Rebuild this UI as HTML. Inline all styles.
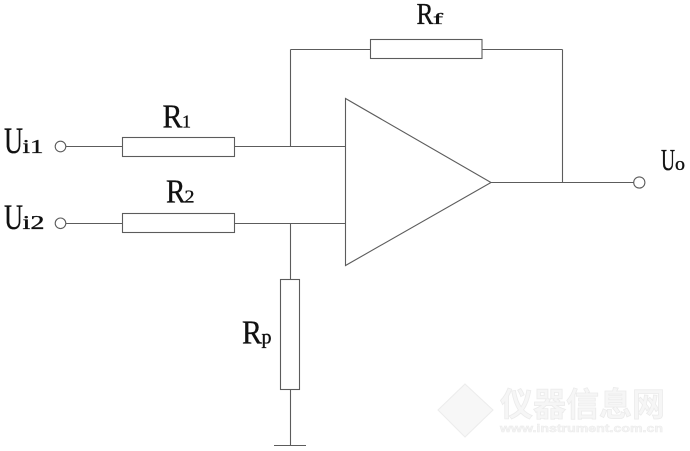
<!DOCTYPE html>
<html>
<head>
<meta charset="utf-8">
<style>
  html, body { margin: 0; padding: 0; background: #fff; }
  body { width: 690px; height: 451px; overflow: hidden; }
  svg { display: block; }
  .w { stroke: #5c5c5c; stroke-width: 1.1; fill: none; }
</style>
</head>
<body>
<svg width="690" height="451" viewBox="0 0 690 451" xmlns="http://www.w3.org/2000/svg">
  <!-- watermark -->
  <g>
    <path d="M465 384 L493 410 L465 437 L438 410 Z" fill="#f7f7f7" stroke="#ececec" stroke-width="1"/>
    <text x="500" y="416" font-family="WenQuanYi Zen Hei, Noto Sans CJK SC, sans-serif" font-size="33" font-weight="bold" fill="#f6f6f6" stroke="#ebebeb" stroke-width="0.8" textLength="165" lengthAdjust="spacingAndGlyphs">仪器信息网</text>
    <text x="500" y="432" font-family="Liberation Sans, sans-serif" font-size="11" font-weight="bold" fill="#f4f4f4" stroke="#ebebeb" stroke-width="0.5" textLength="163" lengthAdjust="spacingAndGlyphs">www.instrument.com.cn</text>
  </g>

  <!-- Input 1 -->
  <circle cx="60.5" cy="146.5" r="5.3" class="w"/>
  <line x1="66" y1="146.5" x2="122" y2="146.5" class="w"/>
  <rect x="122.5" y="137.5" width="112" height="19" class="w"/>
  <line x1="234.5" y1="146.5" x2="345.5" y2="146.5" class="w"/>
  <line x1="290.5" y1="49.5" x2="290.5" y2="146.5" class="w"/>

  <!-- Input 2 -->
  <circle cx="60.5" cy="223.3" r="5.3" class="w"/>
  <line x1="66" y1="223.5" x2="122" y2="223.5" class="w"/>
  <rect x="122.5" y="213.5" width="112" height="19" class="w"/>
  <line x1="234.5" y1="223.5" x2="345.5" y2="223.5" class="w"/>

  <!-- Feedback -->
  <line x1="290.5" y1="49.5" x2="370.5" y2="49.5" class="w"/>
  <rect x="370.5" y="39.5" width="111.5" height="19" class="w"/>
  <line x1="482" y1="49.5" x2="562.5" y2="49.5" class="w"/>
  <line x1="562.5" y1="49.5" x2="562.5" y2="182.5" class="w"/>

  <!-- Op-amp -->
  <polygon points="345.5,98.5 345.5,265.5 491,182.5" class="w"/>

  <!-- Output -->
  <line x1="491" y1="182.5" x2="633.5" y2="182.5" class="w"/>
  <circle cx="639.3" cy="182.5" r="5.6" class="w"/>

  <!-- Rp to ground -->
  <line x1="290.5" y1="223.5" x2="290.5" y2="279.5" class="w"/>
  <rect x="280.5" y="279.5" width="19" height="110" class="w"/>
  <line x1="290.5" y1="389.5" x2="290.5" y2="445.5" class="w"/>
  <line x1="274" y1="445.5" x2="306" y2="445.5" class="w"/>

  <!-- Labels -->
  <g font-family="Liberation Serif, serif" fill="#111" stroke="#111" stroke-width="0.35">
    <!-- Ui1 -->
    <text x="4" y="153" font-size="37" textLength="19" lengthAdjust="spacingAndGlyphs">U</text>
    <text x="22.5" y="153" font-size="20" textLength="21" lengthAdjust="spacingAndGlyphs">i1</text>
    <!-- Ui2 -->
    <text x="4" y="229" font-size="36" textLength="19" lengthAdjust="spacingAndGlyphs">U</text>
    <text x="22.5" y="229" font-size="20" textLength="22" lengthAdjust="spacingAndGlyphs">i2</text>
    <!-- R1 -->
    <text x="162.5" y="127.5" font-size="34" textLength="20" lengthAdjust="spacingAndGlyphs">R</text>
    <text x="182" y="127.5" font-size="18" textLength="9" lengthAdjust="spacingAndGlyphs">1</text>
    <!-- R2 -->
    <text x="166" y="202.5" font-size="34" textLength="19.5" lengthAdjust="spacingAndGlyphs">R</text>
    <text x="184.5" y="202.5" font-size="18" textLength="10" lengthAdjust="spacingAndGlyphs">2</text>
    <!-- Rf -->
    <text x="416.5" y="24" font-size="31" textLength="17" lengthAdjust="spacingAndGlyphs">R</text>
    <text x="433" y="24" font-size="16" textLength="10" lengthAdjust="spacingAndGlyphs">f</text>
    <!-- Uo -->
    <text x="661" y="170" font-size="31" textLength="14" lengthAdjust="spacingAndGlyphs">U</text>
    <text x="675" y="170" font-size="19" textLength="10" lengthAdjust="spacingAndGlyphs">o</text>
    <!-- Rp -->
    <text x="242" y="343.5" font-size="34" textLength="20" lengthAdjust="spacingAndGlyphs">R</text>
    <text x="261.5" y="343.5" font-size="20" textLength="10" lengthAdjust="spacingAndGlyphs">p</text>
  </g>
</svg>
</body>
</html>
